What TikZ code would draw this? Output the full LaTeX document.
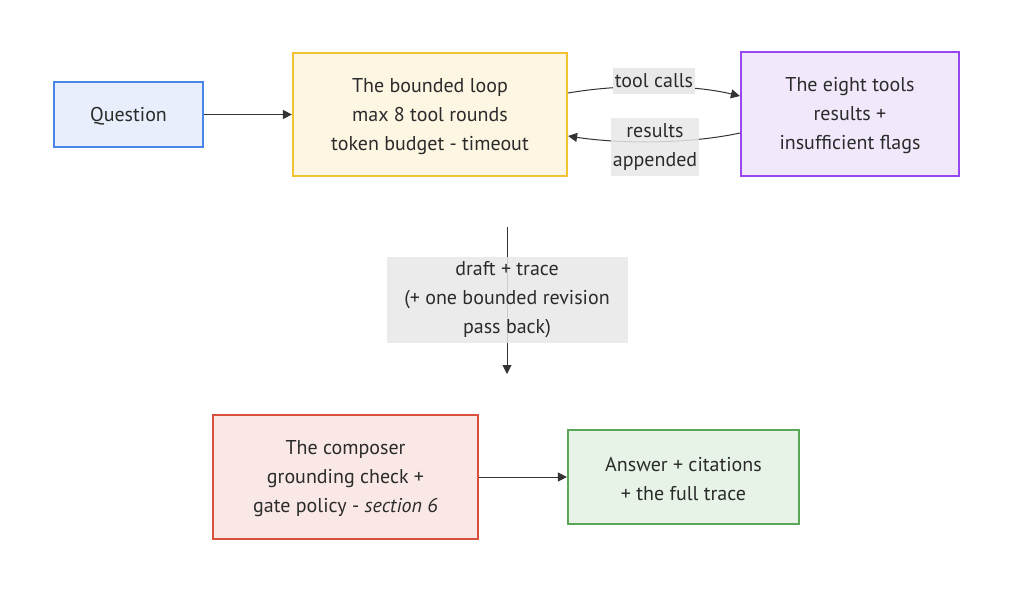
\documentclass[tikz,border=0pt]{standalone}
\usepackage{fontspec}
\setmainfont{PT Sans}
\usetikzlibrary{arrows.meta}
\definecolor{qfill}{HTML}{E8EEFB}\definecolor{qline}{HTML}{4A86E8}
\definecolor{lfill}{HTML}{FDF6E3}\definecolor{lline}{HTML}{F1C232}
\definecolor{tfill}{HTML}{F1E8FB}\definecolor{tline}{HTML}{9747F0}
\definecolor{cfill}{HTML}{F9E8E6}\definecolor{cline}{HTML}{D9503F}
\definecolor{afill}{HTML}{E6F3E6}\definecolor{aline}{HTML}{59A85A}
\definecolor{edge}{HTML}{333333}
\definecolor{lblbg}{HTML}{E8E8E8}
\definecolor{txt}{HTML}{2B2B2B}
\newcommand{\lowtext}[2]{\raisebox{-2pt}[\height][\depth]{\parbox{#1}{\centering #2}}}
\tikzset{
  box/.style={draw, line width=2.2pt, inner sep=0pt, align=center, text=txt, font=\fontsize{20}{29}\selectfont},
  conn/.style={draw=edge, line width=1pt, -{Triangle[length=9pt,width=9pt]}},
  lbl/.style={fill=lblbg, text=txt, align=center, inner sep=2pt, font=\fontsize{20}{29}\selectfont},
}
\begin{document}
\begin{tikzpicture}[x=1pt,y=-1pt]
\useasboundingbox (0,0) rectangle (1024,597);
\node[box, fill=qfill, draw=qline, minimum width=149pt, minimum height=65pt] (q) at (128.5,114.5) {\lowtext{140pt}{Question}};
\node[box, fill=lfill, draw=lline, minimum width=274pt, minimum height=123pt] (loop) at (430,114.5) {\lowtext{260pt}{The bounded loop\\max 8 tool rounds\\token budget - timeout}};
\node[box, fill=tfill, draw=tline, minimum width=218pt, minimum height=124pt] (tools) at (850,114) {\lowtext{210pt}{The eight tools\\results +\\insufficient flags}};
\node[box, fill=cfill, draw=cline, minimum width=265pt, minimum height=124pt] (comp) at (345.5,477) {\lowtext{250pt}{The composer\\grounding check +\\gate policy - \textit{section 6}}};
\node[box, fill=afill, draw=aline, minimum width=231pt, minimum height=94pt] (ans) at (683.5,477) {\lowtext{220pt}{Answer + citations\\+ the full trace}};
\coordinate (vtop) at (507,227);
\coordinate (vbot) at (507,374);

\draw[conn] (q) -- (loop);
\draw[conn] (loop.east |- 0,93) .. controls (620,84) and (690,84) .. (tools.west |- 0,96);
\draw[conn] (tools.west |- 0,133) .. controls (690,144) and (620,144) .. (loop.east |- 0,136);
\draw[conn] (vtop) -- (vbot);
\draw[conn] (comp) -- (ans);

\node[lbl, minimum width=80pt, minimum height=26pt] (l1) at (654,81) {tool calls};
\node[lbl, minimum width=84pt, minimum height=58pt, fill opacity=0.85, text opacity=1] (l2) at (655,147) {results\\appended};
\node[lbl, minimum width=241pt, minimum height=86pt, fill opacity=0.85, text opacity=1] (l3) at (507,300) {draft + trace\\(+ one bounded revision\\pass back)};
\end{tikzpicture}
\end{document}
